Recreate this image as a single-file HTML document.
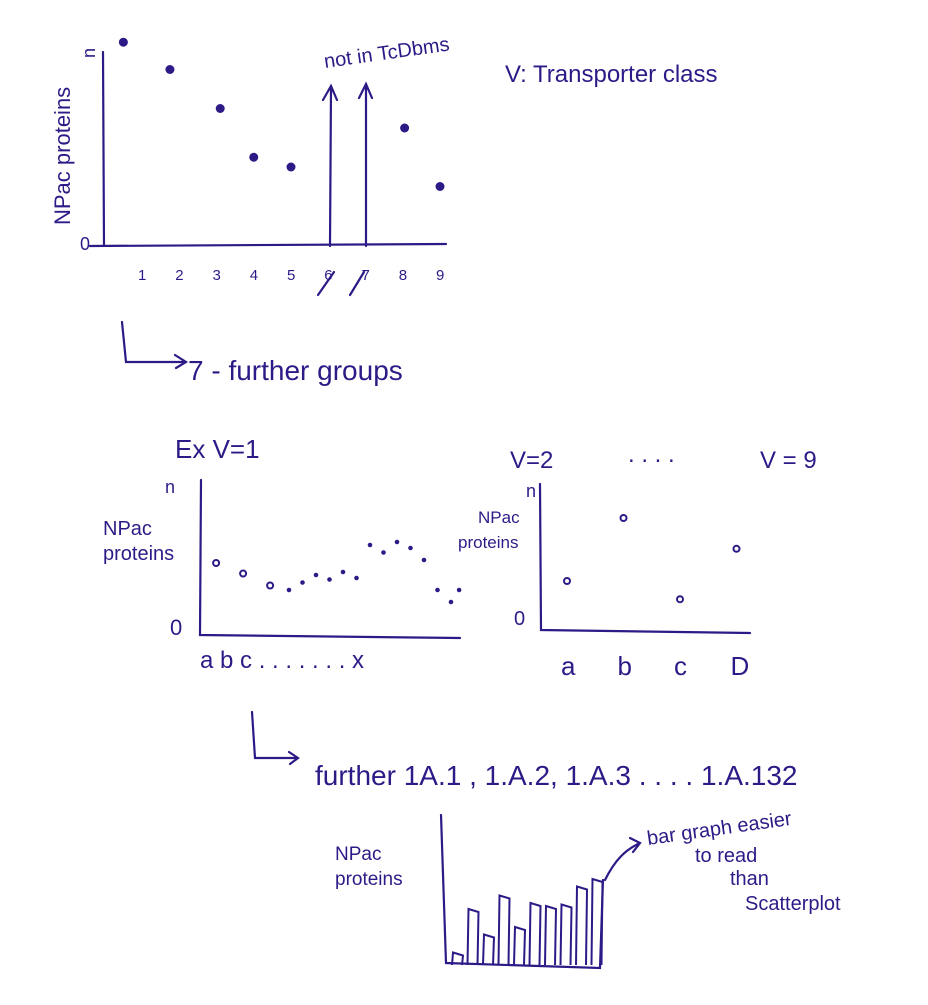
<!DOCTYPE html>
<html><head><meta charset="utf-8"><style>
html,body{margin:0;padding:0;background:#fff}
svg{display:block}
text{font-family:"Liberation Sans",sans-serif;fill:#2e1a87}
</style></head><body>
<svg width="928" height="1005" viewBox="0 0 928 1005" id="svg">
<g stroke="#2e1a87" stroke-width="2.2" fill="none" stroke-linecap="round">
<path d="M103 52 L104 246 M90 246 L446 244"/>
<path d="M330 246 L331 88 M323 100 L331 86 L337 100"/>
<path d="M366 246 L366 86 M359 98 L366 84 L372 98"/>
<path d="M318 295 L334 272 M350 295 L364 272"/>
<path d="M122 322 L126 362 L185 362 M175 355 L186 362 L176 368"/>
<path d="M201 480 L200 635 L460 638"/>
<path d="M540 484 L541 630 L750 633"/>
<path d="M252 712 L255 758 L297 758 M289 752 L298 758 L290 764"/>
<path d="M441 815 L446 963 L600 968 L603 880"/>
<path d="M605 880 C615 860 625 850 640 843 M630 838 L640 843 L633 852"/>
</g>
<g id="top"></g>
<g id="v1"></g>
<g id="v2"></g>
<g id="bars"></g>
<text x="70" y="225" font-size="22" transform="rotate(-90 70 225)">NPac proteins</text>
<text x="95" y="58" font-size="18" transform="rotate(-90 95 58)">n</text>
<text x="80" y="250" font-size="18">0</text>
<text x="325" y="68" font-size="20" transform="rotate(-8 325 68)">not in TcDbms</text>
<text x="505" y="82" font-size="24">V: Transporter class</text>
<text x="188" y="380" font-size="28">7 - further groups</text>
<text x="175" y="458" font-size="26">Ex  V=1</text>
<text x="510" y="468" font-size="24">V=2</text>
<text x="628" y="462" font-size="24">. . . .</text>
<text x="760" y="468" font-size="24">V = 9</text>
<text x="103" y="535" font-size="20">NPac</text>
<text x="103" y="560" font-size="20">proteins</text>
<text x="165" y="493" font-size="18">n</text>
<text x="170" y="635" font-size="22">0</text>
<text x="200" y="668" font-size="24">a  b  c  . . .    . . . .  x</text>
<text x="478" y="523" font-size="17">NPac</text>
<text x="458" y="548" font-size="17">proteins</text>
<text x="526" y="497" font-size="18">n</text>
<text x="514" y="625" font-size="20">0</text>
<text x="315" y="785" font-size="28">further   1A.1 , 1.A.2, 1.A.3 . . . .  1.A.132</text>
<text x="335" y="860" font-size="19">NPac</text>
<text x="335" y="885" font-size="19">proteins</text>
<text x="648" y="845" font-size="20" transform="rotate(-8 648 845)">bar graph easier</text>
<text x="695" y="862" font-size="20">to read</text>
<text x="730" y="885" font-size="20">than</text>
<text x="745" y="910" font-size="20">Scatterplot</text>
</svg>
<script>
const topTicks=["1","2","3","4","5","6","7","8","9"];
const topX=[0.5,1.75,3.1,4.0,5.0,8.05,9.0];
const topVals=[1.04,0.90,0.70,0.45,0.40,0.60,0.30];
const v1X=[0.3,1.3,2.3,3.0,3.5,4.0,4.5,5.0,5.5,6.0,6.5,7.0,7.5,8.0,8.5,9.0,9.3];
const v1Vals=[0.48,0.41,0.33,0.30,0.35,0.40,0.37,0.42,0.38,0.60,0.55,0.62,0.58,0.50,0.30,0.22,0.30];
const v2Vals=[0.35,0.80,0.22,0.58];
const barVals=[0.07,0.36,0.19,0.45,0.24,0.40,0.38,0.39,0.51,0.56];
const NS="http://www.w3.org/2000/svg",C="#2e1a87";
function mk(t,a,p){const e=document.createElementNS(NS,t);for(const k in a)e.setAttribute(k,a[k]);p.appendChild(e);return e;}
// top chart
const tx=v=>142+(v-1)*37.25, ty=v=>245-v*195;
const gt=document.getElementById('top');
topTicks.forEach((t,i)=>{const e=mk('text',{x:tx(i+1)-4,y:280,'font-size':15},gt);e.textContent=t;

});
topVals.forEach((v,i)=>{const e=mk('circle',{cx:tx(topX[i]),cy:ty(v),r:4.5,fill:C},gt);

});
// v1
const ax=v=>208+v*27, ay=v=>635-v*150;
const g1=document.getElementById('v1');
v1Vals.forEach((v,i)=>{const e=mk('circle',{cx:ax(v1X[i]),cy:ay(v),r:i<3?3:1.3,fill:i<3?'none':C,stroke:C,'stroke-width':2},g1);

});
// v2
const bx=i=>567+i*56.5, by=v=>630-v*140;
const g2=document.getElementById('v2');
v2Vals.forEach((v,i)=>{const e=mk('circle',{cx:bx(i),cy:by(v),r:3,fill:'none',stroke:C,'stroke-width':2},g2);

});
["a","b","c","D"].forEach((t,i)=>{const e=mk('text',{x:bx(i)-6,y:675,'font-size':26},g2);e.textContent=t;

});
// bars
const gb=document.getElementById('bars');
const cx=i=>452+i*15.5, cy=v=>963-v*150;
barVals.forEach((v,i)=>{const e=mk('path',{d:`M${cx(i)} 965 L${cx(i)+1} ${cy(v)} L${cx(i)+11} ${cy(v)+3} L${cx(i)+10} 965`,fill:'none',stroke:C,'stroke-width':2},gb);

});
</script>
</body></html>
